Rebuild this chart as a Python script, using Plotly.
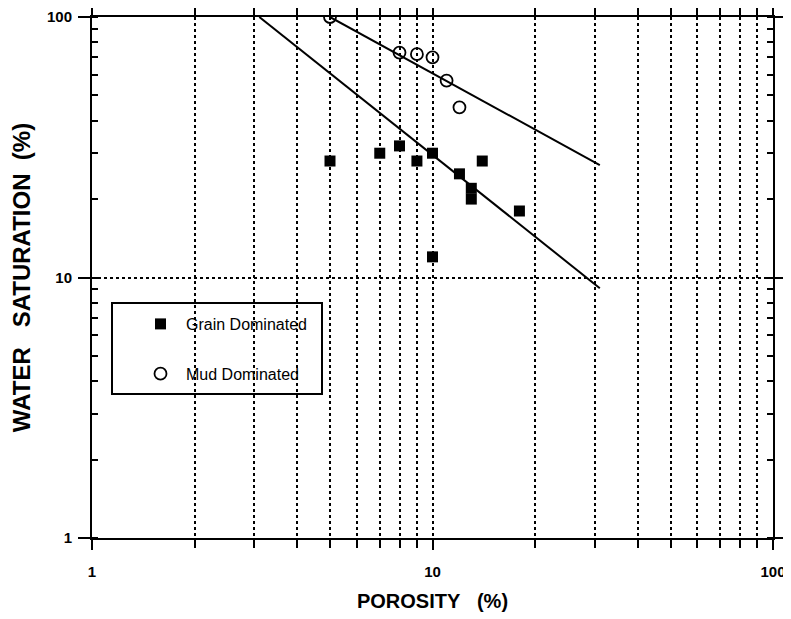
import plotly.graph_objects as go

# --- data ---
grain_porosity = [5, 7, 8, 9, 10, 10, 12, 13, 13, 14, 18]
grain_sw = [28, 30, 32, 28, 30, 12, 25, 22, 20, 28, 18]

mud_porosity = [5, 8, 9, 10, 11, 12]
mud_sw = [100, 73, 72, 70, 57, 45]

grain_fit_x = [3.1, 31]
grain_fit_y = [100, 9.1]
mud_fit_x = [5, 31]
mud_fit_y = [100, 27]

x_tickvals = [1, 10, 100]
x_ticktext = ["<b>1</b>", "<b>10</b>", "<b>100</b>"]
y_tickvals = [1, 10, 100]
y_ticktext = ["<b>1</b>", "<b>10</b>", "<b>100</b>"]

fig = go.Figure()

fig.add_trace(go.Scatter(x=grain_fit_x, y=grain_fit_y, mode="lines",
                         line=dict(color="black", width=2), showlegend=False,
                         hoverinfo="skip"))
fig.add_trace(go.Scatter(x=mud_fit_x, y=mud_fit_y, mode="lines",
                         line=dict(color="black", width=2), showlegend=False,
                         hoverinfo="skip"))

fig.add_trace(go.Scatter(x=grain_porosity, y=grain_sw, mode="markers",
                         name="Grain Dominated", legendgroup="g",
                         marker=dict(symbol="square", size=11, color="black",
                                     line=dict(color="black", width=0))))
fig.add_trace(go.Scatter(x=mud_porosity, y=mud_sw, mode="markers",
                         name="Mud Dominated", legendgroup="m",
                         marker=dict(symbol="circle-open", size=12, color="black",
                                     line=dict(color="black", width=1.8))))

# page body has an 8px default margin; the figure is laid out in page pixels
OFF = 8
W, H = 791 - OFF, 619 - OFF
L, T = 92 - OFF, 17 - OFF
R = W - (773 - OFF)
B = H - (538 - OFF)
pw, ph = W - L - R, H - T - B

def px(xp):
    return (xp - OFF - L) / pw

def py(yp):
    return (H - B - (yp - OFF)) / ph

# legend frame
fig.add_shape(type="rect", xref="paper", yref="paper",
              x0=px(112), x1=px(322), y0=py(394), y1=py(303),
              line=dict(color="black", width=2), fillcolor="rgba(0,0,0,0)",
              layer="above")

axis_font = dict(family="Liberation Sans, Arial, sans-serif", size=15, color="black")

fig.update_xaxes(
    type="log", range=[0, 2], automargin=False,
    tickvals=x_tickvals, ticktext=x_ticktext,
    ticks="outside", ticklen=10, tickwidth=1.5, tickcolor="black",
    ticklabelstandoff=9,
    showline=True, linewidth=2, linecolor="black", mirror="allticks",
    showgrid=True, gridcolor="black", gridwidth=1.5, griddash="dot",
    minor=dict(dtick="D1", ticks="outside", ticklen=8, tickwidth=1.5, tickcolor="black",
               showgrid=True, gridcolor="black", gridwidth=1.5, griddash="dot"),
    tickfont=axis_font, zeroline=False,
    title=dict(text="<b>POROSITY&nbsp;&nbsp;&nbsp;(%)</b>", standoff=15,
               font=dict(family="Liberation Sans, Arial, sans-serif", size=20, color="black")),
)
fig.update_yaxes(
    type="log", range=[0, 2], automargin=False,
    tickvals=y_tickvals, ticktext=y_ticktext,
    ticks="outside", ticklen=12, tickwidth=1.5, tickcolor="black",
    ticklabelstandoff=3,
    showline=True, linewidth=2, linecolor="black", mirror="allticks",
    showgrid=True, gridcolor="black", gridwidth=1.5, griddash="dot",
    minor=dict(dtick="D1", ticks="inside", ticklen=6, tickwidth=1.5, tickcolor="black",
               showgrid=False),
    tickfont=axis_font, zeroline=False,
    title=dict(text="<b>WATER&nbsp;&nbsp;&nbsp;SATURATION&nbsp;&nbsp;(%)</b>", standoff=22,
               font=dict(family="Liberation Sans, Arial, sans-serif", size=24, color="black")),
)

fig.update_layout(
    width=W, height=H,
    margin=dict(l=L, r=R, t=T, b=B),
    paper_bgcolor="white", plot_bgcolor="white",
    showlegend=True,
    legend=dict(x=px(135), y=py(307), xanchor="left", yanchor="top",
                bgcolor="rgba(0,0,0,0)", borderwidth=0, itemwidth=41,
                traceorder="grouped", tracegroupgap=26,
                font=dict(family="Liberation Sans, Arial, sans-serif", size=16, color="black")),
)

fig.write_html("out.html")
